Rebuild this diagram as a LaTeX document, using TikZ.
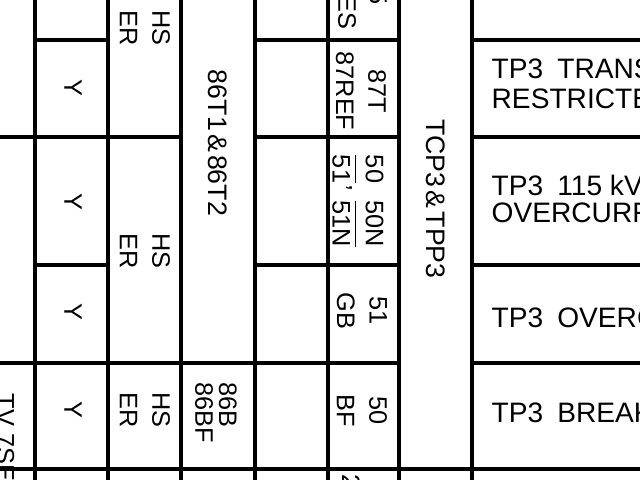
\documentclass[tikz,border=0pt]{standalone}
\usepackage{amsmath}
\usepackage{fontspec}
\setmainfont{Liberation Sans}
\begin{document}
\begin{tikzpicture}[x=0.025cm, y=-0.025cm, line width=2.4pt,
  vtxt/.style={rotate=-90, inner sep=0pt, align=center, font=\fontsize{18}{23}\selectfont},
  htxt/.style={anchor=west, inner sep=0pt, align=left, font=\fontsize{20}{21}\selectfont}]

  \useasboundingbox (0,0) rectangle (640,480);
  \clip (0,0) rectangle (640,480);

  % columns
  \foreach \x in {35,108,181,255,328,399,472}
    \draw (\x,-5) -- (\x,485);

  % rows
  \draw (35,40) -- (108,40);
  \draw (255,40) -- (399,40);
  \draw (472,40) -- (645,40);

  \draw (-5,137) -- (181,137);
  \draw (255,137) -- (399,137);
  \draw (472,137) -- (645,137);

  \draw (35,265) -- (108,265);
  \draw (255,265) -- (399,265);
  \draw (472,265) -- (645,265);

  \draw (-5,363) -- (399,363);
  \draw (472,363) -- (645,363);

  \draw (-5,469) -- (645,469);

  % Y marks
  \node [vtxt] (y0) at (73,88) {Y};
  \node [vtxt] (y1) at (73,202) {Y};
  \node [vtxt] (y2) at (73,312) {Y};
  \node [vtxt] (y3) at (73,410) {Y};

  % HS / ER
  \node [vtxt] (hs0) at (145,28) {HS\\ER};
  \node [vtxt] (hs1) at (145,251) {HS\\ER};
  \node [vtxt] (hs2) at (145,410) {HS\\ER};

  % lockout relays
  \node [vtxt, font=\fontsize{19}{23}\selectfont] (lor0) at (218,143) {86T1\hspace{0.12em}\&\hspace{0.12em}86T2};
  \node [vtxt, anchor=west, align=left, font=\fontsize{18}{17}\selectfont] (lor1) at (216,381) {86B\\86BF};

  % device numbers
  \node [vtxt, anchor=east] (dev) at (347,31) {ES};
  \node [vtxt, anchor=east] (devr) at (378,6) {5};
  \node [vtxt] (dev0) at (361,91) {87T\\87REF};
  \node [vtxt] (dev1) at (358,201) {$\dfrac{\mbox{50}}{\mbox{51}}$, $\dfrac{\mbox{50N}}{\mbox{51N}}$};
  \node [vtxt] (dev2) at (362,311) {51\\GB};
  \node [vtxt] (dev3) at (362,411) {50\\BF};
  \node [vtxt, anchor=west] (dev4) at (351,473) {2};

  \node [vtxt, font=\fontsize{19}{23}\selectfont] (panel) at (436,199) {TCP3\hspace{0.12em}\&\hspace{0.12em}TPP3};

  \node [vtxt, anchor=north west] (tx) at (16,392) {TV 7SE};

  % descriptions
  \node [htxt, font=\fontsize{20}{21.3}\selectfont] (d0) at (490,84) {TP3\hspace{0.5em}TRANSFORMER\\RESTRICTED EARTH FAULT};
  \node [htxt, font=\fontsize{20}{19}\selectfont] (d1) at (490,199) {TP3\hspace{0.5em}115 kV\\OVERCURRENT};
  \node [htxt] (d2) at (490,318) {TP3\hspace{0.5em}OVERCURRENT};
  \node [htxt] (d3) at (490,413) {TP3\hspace{0.5em}BREAKER FAILURE};

\end{tikzpicture}
\end{document}
